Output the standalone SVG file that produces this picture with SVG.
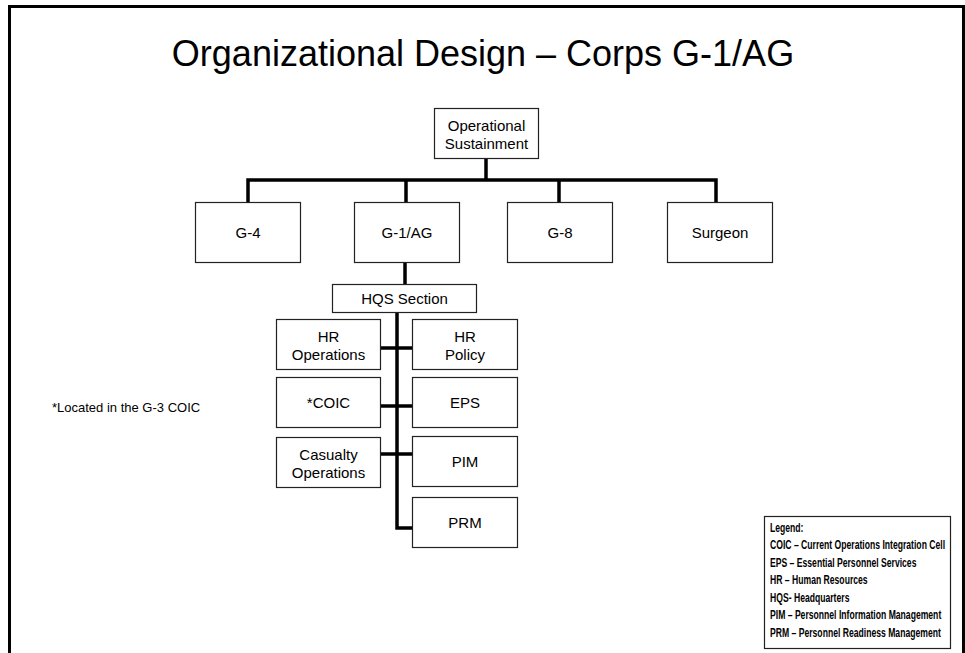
<svg xmlns="http://www.w3.org/2000/svg" width="965" height="653" viewBox="0 0 965 653">
  <style>
    .box { fill: #ffffff; stroke: #222222; stroke-width: 1.2; }
    .lbl { font-family: "Liberation Sans", Arial, sans-serif; font-size: 15px; fill: #000000; text-anchor: middle; dominant-baseline: central; }
    .wire { fill: none; stroke: #000000; stroke-width: 3.5; stroke-linejoin: miter; }
    .title { font-family: "Liberation Sans", Arial, sans-serif; font-size: 36px; fill: #000000; text-anchor: middle; }
    .note { font-family: "Liberation Sans", Arial, sans-serif; font-size: 13px; fill: #000000; }
    .legend { font-family: "Liberation Sans", Arial, sans-serif; font-size: 12.5px; font-weight: bold; fill: #000000; }
  </style>
  <rect width="965" height="653" fill="#ffffff"/>
  <!-- page frame -->
  <path d="M9.5 653 V6.5 H963.5 V653" fill="none" stroke="#000000" stroke-width="3"/>

  <text class="title" x="483" y="66">Organizational Design – Corps G-1/AG</text>

  <!-- connectors -->
  <g id="connectors">
    <path class="wire" d="M486 159 V180"/>
    <path class="wire" d="M248 202 V180 H716 V202"/>
    <path class="wire" d="M406 180 V202"/>
    <path class="wire" d="M559 180 V202"/>
    <path class="wire" d="M405 263 V285"/>
    <path class="wire" d="M397 313 V528 H412"/>
    <path class="wire" d="M380 348 H412"/>
    <path class="wire" d="M380 406 H412"/>
    <path class="wire" d="M380 454 H412"/>
  </g>

  <g id="operational-sustainment">
    <rect class="box" x="434.5" y="108.5" width="104" height="50"/>
    <text class="lbl" x="486.5" y="125">Operational</text>
    <text class="lbl" x="486.5" y="143">Sustainment</text>
  </g>
  <g id="g4">
    <rect class="box" x="195.5" y="202.5" width="105" height="60"/>
    <text class="lbl" x="248" y="232.5">G-4</text>
  </g>
  <g id="g1-ag">
    <rect class="box" x="354.5" y="202.5" width="105" height="60"/>
    <text class="lbl" x="407" y="232.5">G-1/AG</text>
  </g>
  <g id="g8">
    <rect class="box" x="507.5" y="202.5" width="105" height="60"/>
    <text class="lbl" x="560" y="232.5">G-8</text>
  </g>
  <g id="surgeon">
    <rect class="box" x="667.5" y="202.5" width="105" height="60"/>
    <text class="lbl" x="720" y="232.5">Surgeon</text>
  </g>
  <g id="hqs-section">
    <rect class="box" x="332.5" y="284.5" width="144" height="28"/>
    <text class="lbl" x="404.5" y="298.5">HQS Section</text>
  </g>
  <g id="hr-operations">
    <rect class="box" x="276.5" y="319.5" width="104" height="50"/>
    <text class="lbl" x="328.5" y="336">HR</text>
    <text class="lbl" x="328.5" y="354">Operations</text>
  </g>
  <g id="coic">
    <rect class="box" x="276.5" y="377.5" width="104" height="50"/>
    <text class="lbl" x="328.5" y="402.5">*COIC</text>
  </g>
  <g id="casualty-operations">
    <rect class="box" x="276.5" y="437.5" width="104" height="50"/>
    <text class="lbl" x="328.5" y="454">Casualty</text>
    <text class="lbl" x="328.5" y="472">Operations</text>
  </g>
  <g id="hr-policy">
    <rect class="box" x="412.5" y="319.5" width="105" height="50"/>
    <text class="lbl" x="465" y="336">HR</text>
    <text class="lbl" x="465" y="354">Policy</text>
  </g>
  <g id="eps">
    <rect class="box" x="412.5" y="377.5" width="105" height="50"/>
    <text class="lbl" x="465" y="402.5">EPS</text>
  </g>
  <g id="pim">
    <rect class="box" x="412.5" y="436.5" width="105" height="50"/>
    <text class="lbl" x="465" y="461.5">PIM</text>
  </g>
  <g id="prm">
    <rect class="box" x="412.5" y="497.5" width="105" height="50"/>
    <text class="lbl" x="465" y="522.5">PRM</text>
  </g>

  <text class="note" x="52" y="412">*Located in the G-3 COIC</text>

  <g id="legend">
    <rect class="box" x="764.5" y="516.5" width="186" height="132"/>
    <!-- legend lines are set narrow so the longest entry fits the box -->
    <g transform="translate(770 0) scale(0.69 1)">
      <text class="legend" x="0" y="532">Legend:</text>
      <text class="legend" x="0" y="549.5">COIC – Current Operations Integration Cell</text>
      <text class="legend" x="0" y="567">EPS – Essential Personnel Services</text>
      <text class="legend" x="0" y="584.5">HR – Human Resources</text>
      <text class="legend" x="0" y="602">HQS- Headquarters</text>
      <text class="legend" x="0" y="619.5">PIM – Personnel Information Management</text>
      <text class="legend" x="0" y="637">PRM – Personnel Readiness Management</text>
    </g>
  </g>
</svg>
